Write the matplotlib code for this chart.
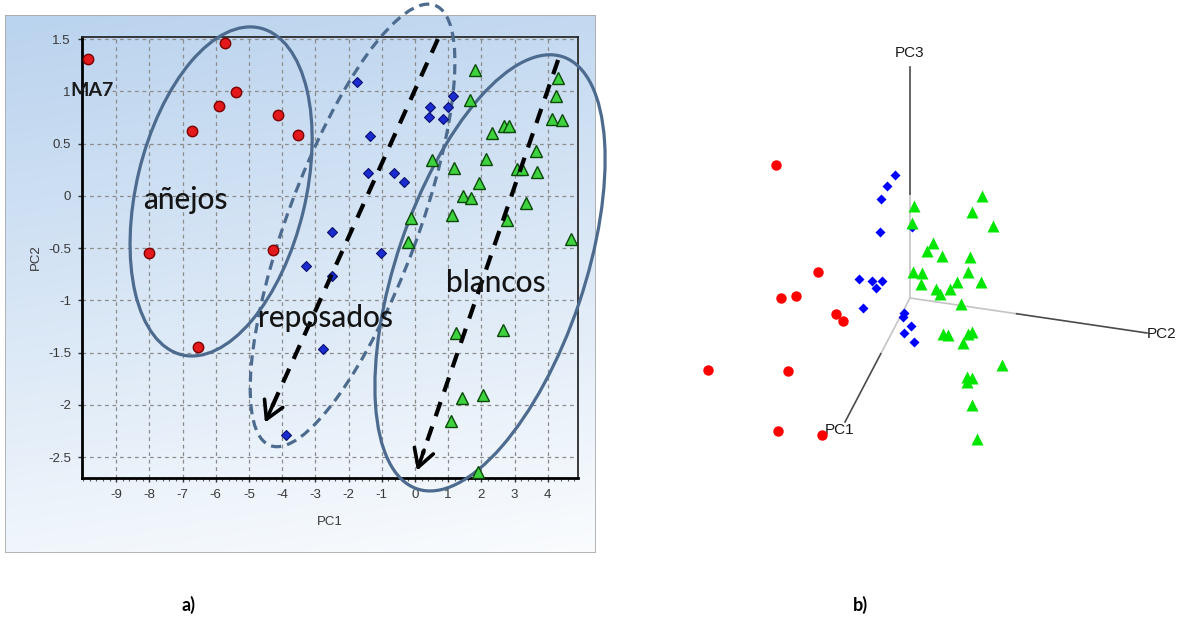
import numpy as np
import matplotlib.pyplot as plt
from matplotlib.patches import Ellipse, Rectangle
from matplotlib.transforms import ScaledTranslation
from matplotlib.ticker import MultipleLocator, FormatStrFormatter

plt.rcParams['axes.unicode_minus'] = False

# ---- a) scores PC1 vs PC2
anejos_pc1 = [-9.84, -5.72, -5.40, -5.90, -6.71, -4.12, -3.53, -8.01, -4.29, -6.53]
anejos_pc2 = [1.31, 1.46, 0.99, 0.86, 0.62, 0.77, 0.58, -0.55, -0.52, -1.45]
reposados_pc1 = [-1.76, 0.45, 0.98, 1.15, 0.43, 0.83, -1.36, -1.43, -0.62, -0.32,
                 -2.51, -1.02, -3.28, -2.51, -2.76, -3.89]
reposados_pc2 = [1.09, 0.85, 0.85, 0.96, 0.75, 0.74, 0.57, 0.22, 0.22, 0.13,
                 -0.35, -0.55, -0.67, -0.77, -1.47, -2.29]
blancos_pc1 = [1.81, 1.66, 4.30, 4.25, 4.12, 4.42, 2.33, 2.68, 2.84, 0.50, 1.17,
               2.13, 3.64, 3.06, 3.23, 3.68, 1.93, 1.45, 1.68, 3.34, -0.12, 1.12,
               2.76, -0.22, 4.69, 1.23, 2.66, 1.42, 2.06, 1.08, 1.89]
blancos_pc2 = [1.20, 0.92, 1.13, 0.96, 0.74, 0.73, 0.60, 0.67, 0.67, 0.34, 0.27,
               0.35, 0.43, 0.26, 0.26, 0.23, 0.12, 0.00, -0.02, -0.07, -0.21, -0.18,
               -0.23, -0.44, -0.41, -1.31, -1.28, -1.93, -1.91, -2.15, -2.64]
x_ticks = list(range(-9, 5))
y_ticks = [-2.5, -2, -1.5, -1, -0.5, 0, 0.5, 1, 1.5]

# ---- b) projected 3D scores (screen units, origin at the axes corner)
r_u = [-134, -92, -129, -114, -74, -67, -202, -122, -132, -88]
r_v = [133, 26, 0, 2, -16, -23, -72, -73, -133, -137]
b_u = [-15, -23, -29, -30, 2, -51, -38, -28, -34, -47, -6, -7, 1, -6, 4]
b_v = [123, 112, 99, 66, 71, 19, 17, 17, 10, -10, -15, -19, -28, -35, -44]
g_u = [72, 4, 62, 83, 2, 23, 17, 32, 60, 3, 12, 58, 11, 47, 71, 26, 30, 40, 51,
       33, 38, 62, 58, 53, 92, 57, 62, 57, 62, 67]
g_v = [102, 92, 86, 72, 75, 55, 47, 42, 41, 26, 25, 26, 14, 16, 16, 9, 4, 9, -6,
       -36, -37, -34, -36, -45, -67, -79, -80, -84, -107, -141]
pc_names = ['PC1', 'PC2', 'PC3']
pc_ends = [(-65, -124), (237, -35), (0, 231)]

fig = plt.figure(figsize=(11.78, 6.2), dpi=100)

# gradient panel behind a)
bg = fig.add_axes([5/1178, 1-553/620, 591/1178, 538/620], zorder=0)
yy, xx = np.mgrid[0:1:200j, 0:1:200j]
t = np.clip(0.85*yy + 0.15*xx, 0, 1)[..., None]
top = np.array([186, 211, 238]) / 255
bot = np.array([250, 252, 254]) / 255
bg.imshow(top*(1-t) + bot*t, aspect='auto', extent=[0, 1, 0, 1])
bg.add_patch(Rectangle((0, 0), 1, 1, fill=False, ec='#a8a8a8', lw=1.2,
                       transform=bg.transAxes))
bg.set_axis_off()

ax = fig.add_axes([82/1178, 1-478/620, 496/1178, 441/620], zorder=1)
ax.set_facecolor('none')
ax.set_xlim(-10.03, 4.91)
ax.set_ylim(-2.70, 1.52)
ax.set_xticks(x_ticks)
ax.set_yticks(y_ticks)
ax.yaxis.set_major_formatter(FormatStrFormatter('%g'))
ax.xaxis.set_minor_locator(MultipleLocator(0.2))
ax.grid(True, color='#8c8c8c', lw=0.9, linestyle=(0, (3, 3)))
ax.set_axisbelow(True)
for s in ['left', 'bottom']:
    ax.spines[s].set_linewidth(2)
    ax.spines[s].set_color('black')
for s in ['top', 'right']:
    ax.spines[s].set_linewidth(1.3)
    ax.spines[s].set_color('#2a2a2a')
ax.tick_params(which='major', direction='out', length=3, width=1, pad=5,
               labelsize=9.5, labelcolor='#383838', color='#333333')
ax.tick_params(which='minor', direction='out', length=2.5, width=0.8, color='#555555')
for lab in ax.get_xticklabels() + ax.get_yticklabels():
    lab.set_family('Liberation Sans')
ax.set_xlabel('PC1', fontsize=9.5, color='#383838', family='Liberation Sans', labelpad=11)
ax.set_ylabel('PC2', fontsize=9.5, color='#383838', family='Liberation Sans', labelpad=4)

ax.plot(anejos_pc1, anejos_pc2, 'o', ms=7.5, mfc='#e3191b', mec='#7a0000', mew=1, zorder=5)
ax.plot(reposados_pc1, reposados_pc2, 'D', ms=5.2, mfc='#1a2bd0', mec='#0a1070', mew=0.8, zorder=5)
ax.plot(blancos_pc1, blancos_pc2, '^', ms=8, mfc='#3fd23f', mec='#0b4a0b', mew=1, zorder=5)

# group ellipses (centre in data units, axes in pixels)
ell_color = '#4d6b8e'
groups = [((-5.84, 0.042), 168, 84.5, 76.5, '-'),
          ((-1.88, -0.283), 235, 65, 69.5, '--'),
          ((2.26, -0.737), 228, 94, 71.35, '-')]
for (cx, cy), a, b, ang, ls in groups:
    tr = fig.dpi_scale_trans + ScaledTranslation(cx, cy, ax.transData)
    e = Ellipse((0, 0), 2*a/100, 2*b/100, angle=ang, transform=tr, fill=False,
                ec=ell_color, lw=2.3, clip_on=False, zorder=4)
    if ls == '--':
        e.set_linestyle((0, (3.2, 1.9)))
    ax.add_patch(e)

# trend arrows
arrows = [((0.69, 1.50), (-4.52, -2.17)), ((4.31, 1.30), (0.06, -2.63))]
for (x0, y0), (x1, y1) in arrows:
    ax.plot([x0, x1 + 0.04*(x0-x1)], [y0, y1 + 0.04*(y0-y1)], color='black', lw=3,
            dashes=(3.6, 2.6), clip_on=False, zorder=6)
    ax.annotate('', xy=(x1, y1), xytext=(x1 + 0.05*(x0-x1), y1 + 0.05*(y0-y1)),
                arrowprops=dict(arrowstyle='->, head_length=0.7, head_width=0.4',
                                color='black', lw=2.6, mutation_scale=18,
                                shrinkA=0, shrinkB=0), zorder=6, annotation_clip=False)

txt = dict(family='Lato', fontweight='medium', fontsize=21.5, color='#141414',
           ha='center', va='center', zorder=7)
ax.text(-6.91, -0.04, 'añejos', **txt)
ax.text(-2.71, -1.17, 'reposados', **txt)
ax.text(2.44, -0.83, 'blancos', **txt)
ax.text(-10.39, 1.01, 'MA7', family='Lato', fontweight='bold', fontsize=14,
        color='#1a1a1a', ha='left', va='center', zorder=7, clip_on=False)

# ---- b) 3D view
ax2 = fig.add_axes([640/1178, 0, 538/1178, 1])
ax2.set_xlim(-270, 268)
ax2.set_ylim(-322, 298)
ax2.set_axis_off()
for name, (eu, ev) in zip(pc_names, pc_ends):
    ax2.plot([0, 0.45*eu], [0, 0.45*ev], color='#c4c4c4', lw=1.2, zorder=1)
    ax2.plot([0.45*eu, eu], [0.45*ev, ev], color='#4a4a4a', lw=1.2, zorder=1)
lab = dict(family='Liberation Sans', fontsize=11, color='#1a1a1a')
ax2.text(0, 245, 'PC3', ha='center', va='center', **lab)
ax2.text(237, -36, 'PC2', ha='left', va='center', **lab)
ax2.text(-70, -132, 'PC1', ha='center', va='center', **lab)
ax2.plot(r_u, r_v, 'o', ms=7.5, color='#ff0000', mec='none', zorder=3)
ax2.plot(b_u, b_v, 'D', ms=5, color='#0000ff', mec='none', zorder=3)
ax2.plot(g_u, g_v, '^', ms=8.5, color='#00e600', mec='none', zorder=4)

fig.text(189/1178, 1-605/620, 'a)', family='Lato', fontweight='bold', fontsize=13,
         ha='center', va='center')
fig.text(860/1178, 1-605/620, 'b)', family='Lato', fontweight='bold', fontsize=13,
         ha='center', va='center')

fig.savefig('out.png', dpi=100)
